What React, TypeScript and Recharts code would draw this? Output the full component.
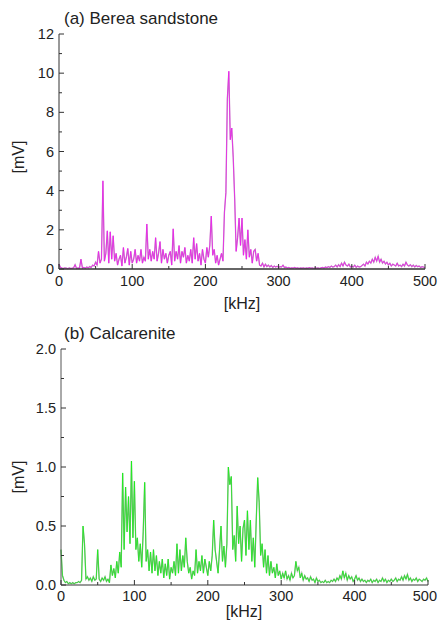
import React from 'react';
import { LineChart, Line, XAxis, YAxis } from 'recharts';

// sampling grid of the spectra, kHz (2 kHz step, 0..500)
const freqKHz: number[] = Array.from({ length: 251 }, (_, i) => i * 2);

// (a) Berea sandstone amplitude, mV
const bereaMV: number[] = [
  0.25, 0.08, 0.05, 0.03, 0.05, 0.04, 0.02, 0.05, 0.03, 0.04,
  0.06, 0.22, 0.03, 0.05, 0.04, 0.5, 0.05, 0.08, 0.04, 0.1,
  0.06, 0.12, 0.08, 0.2, 0.15, 0.35, 0.2, 0.9, 0.3, 0.5,
  4.5, 0.4, 0.8, 1.95, 0.3, 1.9, 0.5, 1.7, 0.4, 0.8,
  0.2, 0.5, 0.7, 0.15, 1.1, 0.3, 0.6, 1.05, 0.2, 0.9,
  0.3, 0.5, 1.0, 0.3, 0.7, 0.4, 1.0, 0.3, 0.6, 0.4,
  2.3, 0.5, 1.0, 0.4, 0.9, 0.5, 1.6, 0.4, 0.8, 1.4,
  0.3, 1.0, 0.5, 0.8, 0.3, 0.7, 0.9, 0.2, 2.05, 0.4,
  0.9, 0.5, 1.2, 0.3, 0.9, 0.6, 1.1, 0.3, 0.7, 0.4,
  1.0, 0.3, 1.6, 0.5, 1.3, 0.4, 0.8, 0.2, 1.0, 0.5,
  0.3, 1.1, 0.6, 1.2, 2.7, 0.7, 1.0, 0.3, 0.7, 0.2,
  0.5, 0.8, 0.4, 2.9, 3.9, 8.7, 10.1, 6.6, 7.2, 5.7,
  3.6, 0.9, 1.6, 2.6, 1.2, 2.6, 0.7, 1.5, 0.5, 2.0,
  0.6, 1.0, 0.3, 0.9, 1.0, 0.4, 0.8, 0.2, 0.15, 0.3,
  0.1, 0.25, 0.12, 0.2, 0.1, 0.18, 0.08, 0.15, 0.1, 0.14,
  0.08, 0.12, 0.1, 0.2, 0.07, 0.1, 0.05, 0.08, 0.04, 0.06,
  0.05, 0.08, 0.04, 0.06, 0.03, 0.05, 0.04, 0.06, 0.03, 0.05,
  0.04, 0.07, 0.04, 0.05, 0.03, 0.06, 0.04, 0.05, 0.03, 0.06,
  0.08, 0.05, 0.1, 0.07, 0.12, 0.08, 0.15, 0.1, 0.12, 0.2,
  0.1, 0.22, 0.12, 0.3, 0.15, 0.35, 0.2, 0.15, 0.25, 0.1,
  0.15, 0.1, 0.2, 0.08, 0.15, 0.1, 0.12, 0.18, 0.25, 0.15,
  0.35, 0.25, 0.4, 0.3, 0.5, 0.35, 0.6, 0.4, 0.65, 0.35,
  0.5, 0.3, 0.4, 0.25, 0.35, 0.2, 0.3, 0.15, 0.25, 0.2,
  0.15, 0.3, 0.15, 0.2, 0.12, 0.25, 0.15, 0.35, 0.2, 0.15,
  0.22, 0.12, 0.2, 0.1, 0.18, 0.12, 0.15, 0.08, 0.12, 0.1,
  0.06,
];

// (b) Calcarenite amplitude, mV
const calcareniteMV: number[] = [
  0.3, 0.08, 0.04, 0.02, 0.03, 0.01, 0.02, 0.01, 0.02, 0.01,
  0.02, 0.02, 0.03, 0.02, 0.04, 0.5, 0.35, 0.05, 0.07, 0.04,
  0.06, 0.03, 0.07, 0.04, 0.05, 0.3, 0.05, 0.03, 0.06, 0.04,
  0.07, 0.03, 0.05, 0.02, 0.17, 0.08, 0.14, 0.06, 0.2, 0.1,
  0.28, 0.15, 0.95, 0.3, 0.83, 0.45, 0.75, 0.35, 1.05, 0.4,
  0.88, 0.3, 0.4, 0.2, 0.35, 0.15, 0.45, 0.87, 0.2, 0.3,
  0.12, 0.28, 0.1, 0.3, 0.12, 0.25, 0.08, 0.2, 0.1, 0.22,
  0.06, 0.18, 0.08, 0.22, 0.05, 0.15, 0.1, 0.2, 0.08, 0.35,
  0.1, 0.3, 0.12, 0.25, 0.15, 0.4, 0.2, 0.1, 0.15, 0.05,
  0.12, 0.08, 0.3, 0.1, 0.2, 0.12, 0.25, 0.1, 0.22, 0.15,
  0.08, 0.2, 0.12, 0.25, 0.55, 0.3, 0.2, 0.1, 0.3, 0.5,
  0.2, 0.33, 0.15, 0.35, 1.0, 0.85, 0.92, 0.3, 0.42, 0.2,
  0.67, 0.35, 0.5, 0.2, 0.48, 0.55, 0.25, 0.63, 0.3, 0.55,
  0.2, 0.4, 0.15, 0.55, 0.91, 0.7, 0.25, 0.35, 0.15, 0.3,
  0.1, 0.25, 0.08, 0.2, 0.1, 0.15, 0.06, 0.18, 0.08, 0.12,
  0.05, 0.1, 0.06, 0.12, 0.05, 0.08, 0.04, 0.1, 0.06, 0.08,
  0.2, 0.12, 0.15, 0.06, 0.1, 0.04, 0.08, 0.05, 0.06, 0.03,
  0.07, 0.04, 0.05, 0.02, 0.06, 0.03, 0.04, 0.02, 0.03, 0.02,
  0.04, 0.02, 0.03, 0.02, 0.04, 0.03, 0.05, 0.03, 0.06, 0.04,
  0.08, 0.05, 0.12, 0.06, 0.1, 0.04, 0.08, 0.05, 0.07, 0.03,
  0.05, 0.08, 0.04, 0.06, 0.03, 0.05, 0.03, 0.04, 0.02, 0.04,
  0.03, 0.05, 0.02, 0.04, 0.03, 0.05, 0.02, 0.04, 0.03, 0.06,
  0.03, 0.05, 0.02, 0.04, 0.03, 0.05, 0.03, 0.04, 0.06, 0.03,
  0.05, 0.04, 0.07, 0.04, 0.08, 0.05, 0.09, 0.04, 0.06, 0.03,
  0.05, 0.04, 0.06, 0.03, 0.05, 0.04, 0.03, 0.05, 0.04, 0.06,
  0.03,
];

const xTicks = [0, 50, 100, 150, 200, 250, 300, 350, 400, 450, 500];
const yTicksA = [0, 1, 2, 3, 4, 5, 6, 7, 8, 9, 10, 11, 12];
const yTicksB = [0, 0.25, 0.5, 0.75, 1, 1.25, 1.5, 1.75, 2];

const FONT = '"Liberation Sans", Arial, sans-serif';
const AXIS = '#333';
const TICK_FS = 14.5;

const bereaData = freqKHz.map((f, i) => ({ f, v: bereaMV[i] }));
const calcData = freqKHz.map((f, i) => ({ f, v: calcareniteMV[i] }));

// tick renderers: ticks point inward, labels only on major ticks
const bottomTick = (labelDy: number) => (p: any) => {
  const v = p.payload.value;
  const major = v % 100 === 0;
  // keep the last label inside the page
  const atEdge = p.x + 12 > 437;
  return (
    <g>
      <line x1={p.x} x2={p.x} y1={p.y} y2={p.y - (major ? 5 : 3)} stroke={AXIS} />
      {major && (
        <text x={atEdge ? 437 : p.x} y={p.y + labelDy} textAnchor={atEdge ? 'end' : 'middle'}
          fontSize={TICK_FS} fontFamily={FONT} fill="#222">
          {v}
        </text>
      )}
    </g>
  );
};

const topTick = (p: any) => {
  const major = p.payload.value % 100 === 0;
  return <line x1={p.x} x2={p.x} y1={p.y} y2={p.y + (major ? 5 : 3)} stroke={AXIS} />;
};

const leftTick = (isMajor: (v: number) => boolean, fmt: (v: number) => string) => (p: any) => {
  const v = p.payload.value;
  const major = isMajor(v);
  return (
    <g>
      <line x1={p.x} x2={p.x + (major ? 5 : 3)} y1={p.y} y2={p.y} stroke={AXIS} />
      {major && (
        <text x={p.x - 5} y={p.y + 5} textAnchor="end" fontSize={TICK_FS} fontFamily={FONT} fill="#222">
          {fmt(v)}
        </text>
      )}
    </g>
  );
};

const rightTick = (isMajor: (v: number) => boolean) => (p: any) => {
  const major = isMajor(p.payload.value);
  return <line x1={p.x} x2={p.x - (major ? 5 : 3)} y1={p.y} y2={p.y} stroke={AXIS} />;
};

const majorA = (v: number) => v % 2 === 0;
const majorB = (v: number) => Math.abs(v * 2 - Math.round(v * 2)) < 1e-6;

const App: React.FC = () => {
  return (
    <div style={{ position: 'absolute', left: 0, top: 0, width: 438, height: 622, background: '#fff' }}>
      <div style={{ position: 'absolute', left: 0, top: 0 }}>
        <LineChart width={438} height={310} data={bereaData} margin={{ top: 34, right: 13, bottom: 0, left: 0 }}>
          <XAxis dataKey="f" type="number" domain={[0, 500]} ticks={xTicks} interval={0}
            height={41} tickSize={0} tickMargin={0} stroke={AXIS} strokeWidth={1.5} tick={bottomTick(17)} />
          <XAxis xAxisId="top" orientation="top" type="number" domain={[0, 500]} ticks={xTicks} interval={0}
            height={0} tickSize={0} tickMargin={0} stroke={AXIS} tick={topTick} />
          <YAxis type="number" domain={[0, 12]} ticks={yTicksA} interval={0} width={59}
            tickSize={0} tickMargin={0} stroke={AXIS} tick={leftTick(majorA, (v) => String(v))} />
          <YAxis yAxisId="right" orientation="right" type="number" domain={[0, 12]} ticks={yTicksA} interval={0}
            width={0} tickSize={0} tickMargin={0} stroke={AXIS} tick={rightTick(majorA)} />
          <Line dataKey="v" type="linear" stroke="#b890b8" strokeWidth={1.3} dot={false} isAnimationActive={false} />
          <Line dataKey="v" type="linear" stroke="#ff00ff" strokeWidth={0.6} dot={false} isAnimationActive={false} />
        </LineChart>
      </div>
      <div style={{ position: 'absolute', left: 0, top: 310 }}>
        <LineChart width={438} height={312} data={calcData} margin={{ top: 39, right: 10, bottom: 0, left: 0 }}>
          <XAxis dataKey="f" type="number" domain={[0, 500]} ticks={xTicks} interval={0}
            height={37} tickSize={0} tickMargin={0} stroke="#777" strokeWidth={1.5} tick={bottomTick(16)} />
          <XAxis xAxisId="top" orientation="top" type="number" domain={[0, 500]} ticks={xTicks} interval={0}
            height={0} tickSize={0} tickMargin={0} stroke={AXIS} tick={topTick} />
          <YAxis type="number" domain={[0, 2]} ticks={yTicksB} interval={0} width={61}
            tickSize={0} tickMargin={0} stroke="#555" tick={leftTick(majorB, (v) => v.toFixed(1))} />
          <YAxis yAxisId="right" orientation="right" type="number" domain={[0, 2]} ticks={yTicksB} interval={0}
            width={0} tickSize={0} tickMargin={0} stroke={AXIS} tick={rightTick(majorB)} />
          <Line dataKey="v" type="linear" stroke="#8fad8f" strokeWidth={1.3} dot={false} isAnimationActive={false} />
          <Line dataKey="v" type="linear" stroke="#00ff00" strokeWidth={0.6} dot={false} isAnimationActive={false} />
        </LineChart>
      </div>
      <svg width={438} height={622} style={{ position: 'absolute', left: 0, top: 0, pointerEvents: 'none' }}
        fontFamily={FONT} fill="#222">
        <text x={64} y={24} fontSize={17}>(a) Berea sandstone</text>
        <text transform="translate(24,157) rotate(-90)" textAnchor="middle" fontSize={16}>[mV]</text>
        <text x={242} y={309} textAnchor="middle" fontSize={16}>[kHz]</text>
        <text x={64} y={339} fontSize={17}>(b) Calcarenite</text>
        <text transform="translate(24,477) rotate(-90)" textAnchor="middle" fontSize={16}>[mV]</text>
        <text x={244} y={617} textAnchor="middle" fontSize={16}>[kHz]</text>
      </svg>
    </div>
  );
};

export default App;
